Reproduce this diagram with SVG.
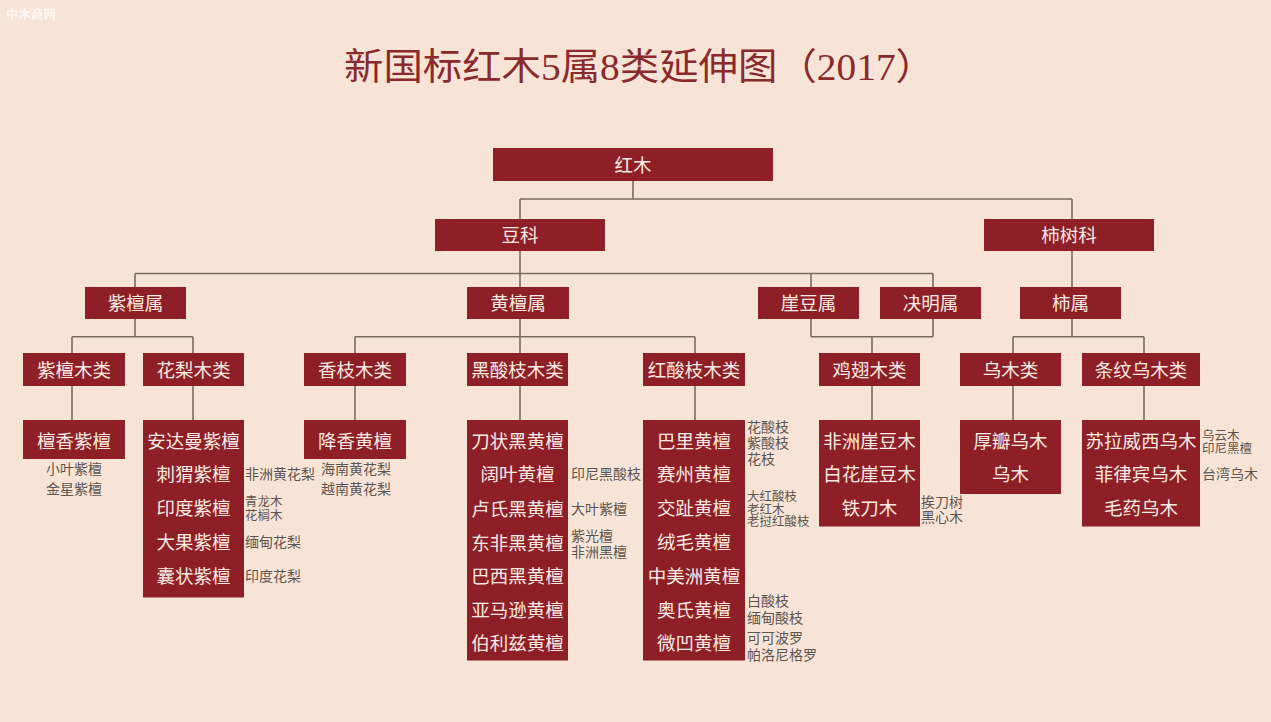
<svg xmlns="http://www.w3.org/2000/svg" width="1271" height="722" viewBox="0 0 1271 722">
<style>
.bg{fill:#f7e4d6}
.box{fill:#8f1f26}
.t{font-family:"Noto Sans CJK SC","Noto Sans",sans-serif;font-size:18.5px;fill:#f9ebe3;text-anchor:middle}
.n{font-family:"Noto Sans CJK SC","Noto Sans",sans-serif;font-size:14px;fill:#5e5450}
.s{font-size:12.5px}
.nm{text-anchor:middle}
.ln{stroke:#7b6b60;stroke-width:1.6;fill:none}
.title{font-family:"Liberation Serif","Noto Sans CJK SC",serif;font-size:37px;fill:#8a2a2c}
.wm{font-family:"Noto Sans CJK SC",sans-serif;font-size:12.5px;font-weight:bold;fill:#ffffff;fill-opacity:0.75}
</style>
<rect class="bg" x="0" y="0" width="1271" height="722"/>
<text class="wm" x="6" y="19">中木商网</text>
<text class="title" x="344" y="80" textLength="591" lengthAdjust="spacingAndGlyphs">新国标红木5属8类延伸图（2017）</text>

<g id="connectors" class="ln">
<path d="M633 181V199M520 199H1072M520 199V287M1072 199V287"/>
<path d="M135 273.5H933M135 273.5V287M811 273.5V287M933 273.5V287"/>
<path d="M135 319V336.7M72 336.7H193M72 336.7V353M193 336.7V353"/>
<path d="M520 319V353M355 336.7H695M355 336.7V353M695 336.7V353"/>
<path d="M811 319V336.7M933 319V336.7M811 336.7H933M872 336.7V353"/>
<path d="M1072 319V336.7M1013 336.7H1144M1013 336.7V353M1144 336.7V353"/>
<path d="M72 386V420M193 386V420M355 386V420M520 386V420M695 386V420M872 386V420M1013 386V420M1144 386V420"/>
</g>

<g id="hongmu"><rect class="box" x="493" y="148" width="280" height="33"/><text class="t" x="633" y="171.5">红木</text></g>
<g id="douke"><rect class="box" x="435" y="219" width="170" height="32"/><text class="t" x="520" y="242">豆科</text></g>
<g id="shishuke"><rect class="box" x="984" y="219" width="170" height="32"/><text class="t" x="1069" y="242">柿树科</text></g>

<g id="zitanshu"><rect class="box" x="85" y="287" width="101" height="32"/><text class="t" x="135.5" y="310">紫檀属</text></g>
<g id="huangtanshu"><rect class="box" x="467" y="287" width="102" height="32"/><text class="t" x="518" y="310">黄檀属</text></g>
<g id="yadoushu"><rect class="box" x="758" y="287" width="101" height="32"/><text class="t" x="808.5" y="310">崖豆属</text></g>
<g id="juemingshu"><rect class="box" x="880" y="287" width="101" height="32"/><text class="t" x="930.5" y="310">决明属</text></g>
<g id="shishu"><rect class="box" x="1020" y="287" width="101" height="32"/><text class="t" x="1070.5" y="310">柿属</text></g>

<g id="zitanmulei"><rect class="box" x="23" y="353" width="102" height="33"/><text class="t" x="74" y="376.5">紫檀木类</text></g>
<g id="hualimulei"><rect class="box" x="143" y="353" width="101" height="33"/><text class="t" x="193.5" y="376.5">花梨木类</text></g>
<g id="xiangzhimulei"><rect class="box" x="304" y="353" width="102" height="33"/><text class="t" x="355" y="376.5">香枝木类</text></g>
<g id="heisuanzhimulei"><rect class="box" x="467" y="353" width="101" height="33"/><text class="t" x="517.5" y="376.5">黑酸枝木类</text></g>
<g id="hongsuanzhimulei"><rect class="box" x="643" y="353" width="102" height="33"/><text class="t" x="694" y="376.5">红酸枝木类</text></g>
<g id="jichimulei"><rect class="box" x="819" y="353" width="101" height="33"/><text class="t" x="869.5" y="376.5">鸡翅木类</text></g>
<g id="wumulei"><rect class="box" x="960" y="353" width="101" height="33"/><text class="t" x="1010.5" y="376.5">乌木类</text></g>
<g id="tiaowenwumulei"><rect class="box" x="1082" y="353" width="118" height="33"/><text class="t" x="1141" y="376.5">条纹乌木类</text></g>

<g id="tanxiangzitan"><rect class="box" x="23" y="420" width="102" height="39"/><text class="t" x="74" y="447.5">檀香紫檀</text>
<text class="n nm" x="74" y="474">小叶紫檀</text><text class="n nm" x="74" y="493.5">金星紫檀</text></g>

<g id="zitan-list"><rect class="box" x="143" y="420" width="101" height="177.5"/>
<text class="t" x="193.5" y="447.7">安达曼紫檀</text>
<text class="t" x="193.5" y="481.3">刺猬紫檀</text>
<text class="t" x="193.5" y="515">印度紫檀</text>
<text class="t" x="193.5" y="549">大果紫檀</text>
<text class="t" x="193.5" y="582.7">囊状紫檀</text>
<text class="n" x="245" y="479.3">非洲黄花梨</text>
<text class="n s" x="245" y="505.5">青龙木</text><text class="n s" x="245" y="519.8">花榈木</text>
<text class="n" x="245" y="547.3">缅甸花梨</text>
<text class="n" x="245" y="581.3">印度花梨</text></g>

<g id="jiangxianghuangtan"><rect class="box" x="304" y="420" width="102" height="39"/><text class="t" x="355" y="447.5">降香黄檀</text>
<text class="n nm" x="356" y="473.5">海南黄花梨</text><text class="n nm" x="356" y="493.5">越南黄花梨</text></g>

<g id="heisuanzhi-list"><rect class="box" x="467" y="420" width="101" height="240.5"/>
<text class="t" x="517.5" y="447.7">刀状黑黄檀</text>
<text class="t" x="517.5" y="481.3">阔叶黄檀</text>
<text class="t" x="517.5" y="516">卢氏黑黄檀</text>
<text class="t" x="517.5" y="549.7">东非黑黄檀</text>
<text class="t" x="517.5" y="583">巴西黑黄檀</text>
<text class="t" x="517.5" y="617">亚马逊黄檀</text>
<text class="t" x="517.5" y="650.3">伯利兹黄檀</text>
<text class="n" x="571" y="479.3">印尼黑酸枝</text>
<text class="n" x="571" y="514.3">大叶紫檀</text>
<text class="n" x="571" y="541">紫光檀</text><text class="n" x="571" y="557">非洲黑檀</text></g>

<g id="hongsuanzhi-list"><rect class="box" x="643" y="420" width="102" height="240.5"/>
<text class="t" x="694" y="447.7">巴里黄檀</text>
<text class="t" x="694" y="481.3">赛州黄檀</text>
<text class="t" x="694" y="515">交趾黄檀</text>
<text class="t" x="694" y="549">绒毛黄檀</text>
<text class="t" x="694" y="583">中美洲黄檀</text>
<text class="t" x="694" y="617">奥氏黄檀</text>
<text class="t" x="694" y="650.3">微凹黄檀</text>
<text class="n" x="747" y="432">花酸枝</text><text class="n" x="747" y="448.3">紫酸枝</text><text class="n" x="747" y="464.3">花枝</text>
<text class="n s" x="747" y="500.8">大红酸枝</text><text class="n s" x="747" y="513.5">老红木</text><text class="n s" x="747" y="526.2">老挝红酸枝</text>
<text class="n" x="747" y="605.8">白酸枝</text><text class="n" x="747" y="623.3">缅甸酸枝</text>
<text class="n" x="747" y="643.3">可可波罗</text><text class="n" x="747" y="660.3">帕洛尼格罗</text></g>

<g id="jichimu-list"><rect class="box" x="819" y="420" width="101" height="106.5"/>
<text class="t" x="869.5" y="447.7">非洲崖豆木</text>
<text class="t" x="869.5" y="481.3">白花崖豆木</text>
<text class="t" x="869.5" y="515.3">铁刀木</text>
<text class="n" x="921" y="506.8">挨刀树</text><text class="n" x="921" y="522.3">黑心木</text></g>

<g id="wumu-list"><rect class="box" x="960" y="420" width="101" height="74"/>
<text class="t" x="1010.5" y="447.7">厚瓣乌木</text>
<text class="t" x="1010.5" y="481.3">乌木</text></g>

<g id="tiaowenwumu-list"><rect class="box" x="1082" y="420" width="118" height="106.5"/>
<text class="t" x="1141" y="447.7">苏拉威西乌木</text>
<text class="t" x="1141" y="481.3">菲律宾乌木</text>
<text class="t" x="1141" y="515.3">毛药乌木</text>
<text class="n s" x="1202" y="439.8">乌云木</text><text class="n s" x="1202" y="453.3">印尼黑檀</text>
<text class="n" x="1202" y="479.3">台湾乌木</text></g>
</svg>
